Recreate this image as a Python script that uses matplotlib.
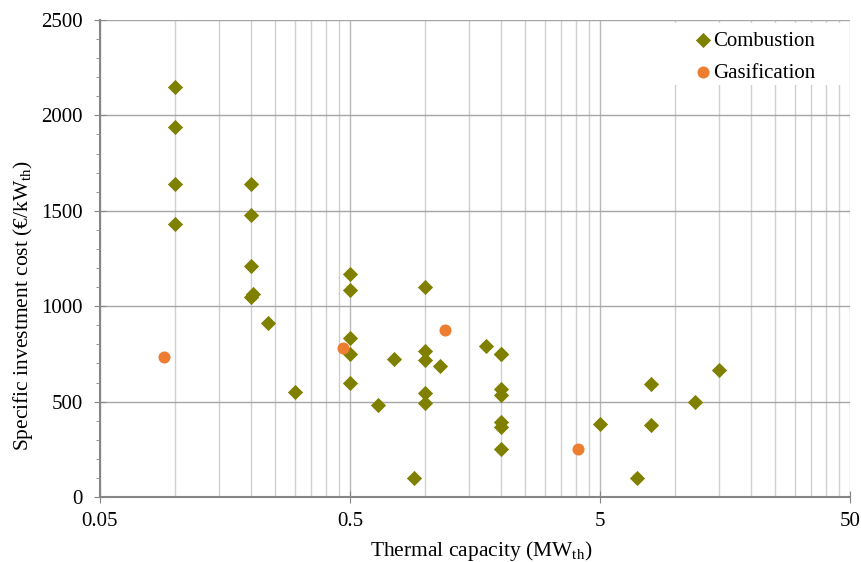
import matplotlib

matplotlib.use("Agg")
import matplotlib.pyplot as plt
from matplotlib.patches import Rectangle
from matplotlib.ticker import FixedLocator, NullFormatter, MultipleLocator

# capacity (MW_th) and specific cost (EUR/kW_th)
COMB_X = [0.1, 0.1, 0.1, 0.1,
          0.2, 0.2, 0.2, 0.2, 0.205, 0.235, 0.3,
          0.5, 0.5, 0.5, 0.5, 0.5, 0.65, 0.75, 0.9,
          1.0, 1.0, 1.0, 1.0, 1.0, 1.15, 1.75,
          2.0, 2.0, 2.0, 2.0, 2.0, 2.0, 2.0,
          5.0, 7.0, 8.0, 8.0, 12.0, 15.0]
COMB_Y = [2150, 1940, 1640, 1430,
          1640, 1480, 1210, 1050, 1065, 910, 550,
          1170, 1085, 835, 750, 600, 480, 725, 100,
          1100, 765, 720, 545, 495, 685, 790,
          750, 565, 535, 395, 365, 250, 750,
          380, 100, 590, 375, 500, 665]
GAS_X = [0.09, 0.47, 1.2, 4.1]
GAS_Y = [735, 780, 875, 250]

XTICKS = [0.05, 0.5, 5, 50]
XTICK_LABELS = ["0.05", "0.5", "5", "50"]

plt.rcParams["font.family"] = ["Liberation Serif", "DejaVu Serif"]
plt.rcParams["mathtext.fontset"] = "custom"
plt.rcParams["mathtext.rm"] = "Liberation Serif"
plt.rcParams["mathtext.it"] = "Liberation Serif:italic"

fig = plt.figure(figsize=(8.61, 5.62), dpi=100)
ax = fig.add_axes([100 / 861, 1 - 497 / 562, 750 / 861, 477 / 562])

ax.scatter(COMB_X, COMB_Y, marker="D", s=60, color="#808000", linewidths=0,
           label="Combustion", zorder=3)
ax.scatter(GAS_X, GAS_Y, marker="o", s=75, color="#ED7D31", linewidths=0,
           label="Gasification", zorder=3)

ax.set_xscale("log")
ax.set_xlim(0.05, 50)
ax.set_ylim(0, 2500)
ax.xaxis.set_major_locator(FixedLocator(XTICKS))
ax.set_xticklabels(XTICK_LABELS)
minor = [m * d for d in (0.05, 0.5, 5) for m in range(2, 10)]
ax.xaxis.set_minor_locator(FixedLocator(minor))
ax.xaxis.set_minor_formatter(NullFormatter())
ax.yaxis.set_major_locator(MultipleLocator(500))
ax.yaxis.set_minor_locator(MultipleLocator(100))

ax.grid(True, which="major", axis="y", color="#a6a6a6", linewidth=1.0)
ax.grid(True, which="major", axis="x", color="#b8b8b8", linewidth=1.0)
ax.grid(True, which="minor", axis="x", color="#d0d0d0", linewidth=1.0)
ax.set_axisbelow(True)

for side in ("top", "right"):
    ax.spines[side].set_visible(False)
for side in ("left", "bottom"):
    ax.spines[side].set_color("#868686")
    ax.spines[side].set_linewidth(1.5)
ax.tick_params(which="major", direction="inout", length=9, color="#868686",
               labelsize=15, labelcolor="black", pad=6)
ax.tick_params(which="major", axis="y", pad=8)
ax.tick_params(which="minor", axis="y", length=3, color="#868686")
ax.tick_params(which="minor", axis="x", length=0)

ax.set_xlabel(r"Thermal capacity (MW$_{\mathrm{th}}$)", fontsize=15.5,
              labelpad=6, x=0.508)
ax.set_ylabel(r"Specific investment cost (€/kW$_{\mathrm{th}}$)", fontsize=15.5,
              labelpad=4, y=0.4025)

# white block behind the legend (hides the gridlines there)
ax.add_patch(Rectangle((0.733, 0.8637), 0.2657, 0.13, transform=ax.transAxes,
                       facecolor="white", edgecolor="none", zorder=1))
ax.legend(loc="upper left", bbox_to_anchor=(0.7933, 0.977), fontsize=15,
          frameon=False, borderaxespad=0.0, borderpad=0.0,
          handletextpad=0.05, labelspacing=0.6, handlelength=0.8)

fig.savefig("out.png", dpi=100)
